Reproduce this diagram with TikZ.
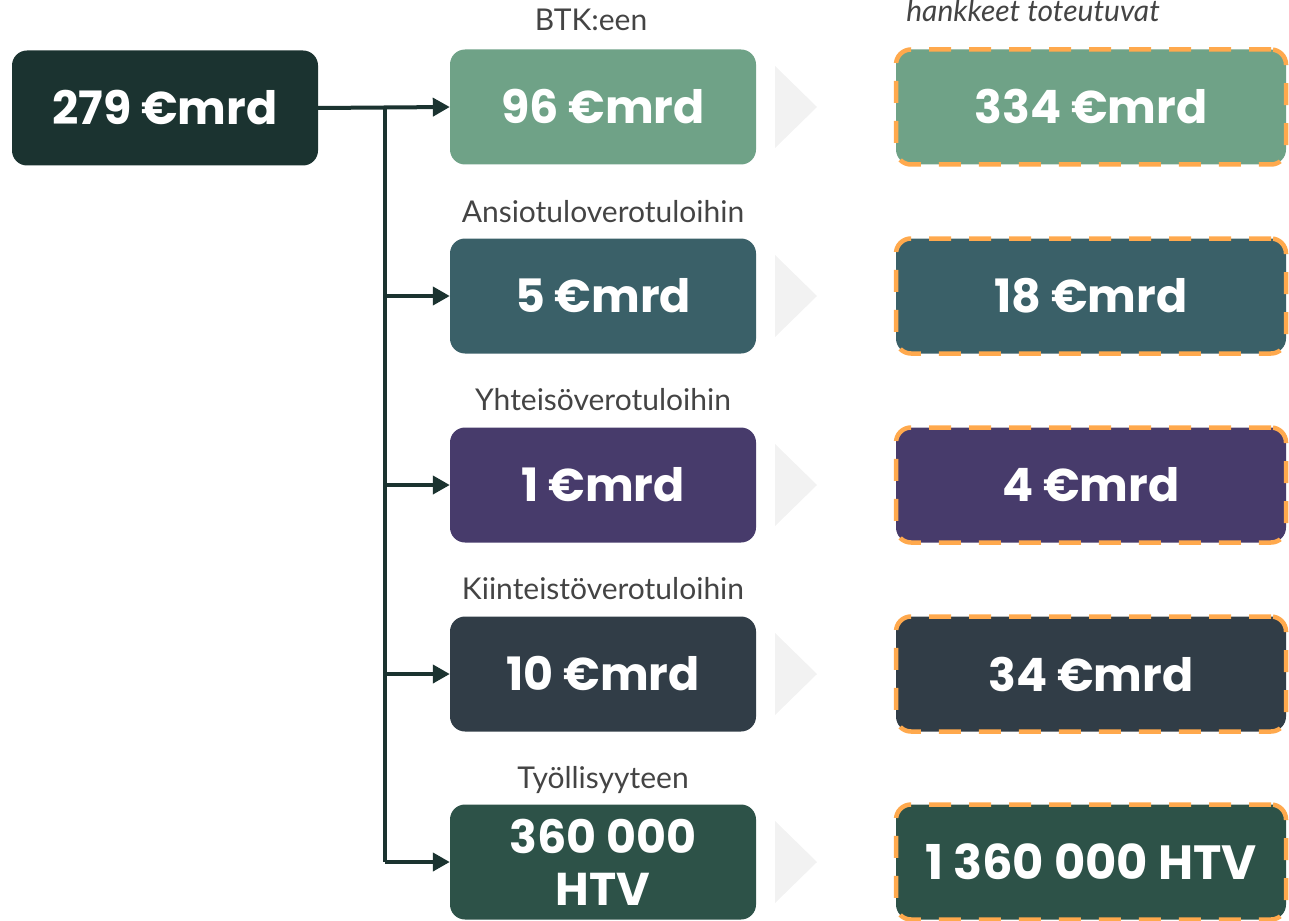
\documentclass[tikz,border=0pt]{standalone}
\usepackage{fontspec}
\usepackage{graphicx}
\setmainfont{Lato}
\newfontfamily\boldf{Poppins}[UprightFont=* Bold]
\usetikzlibrary{arrows.meta}
\definecolor{cdark}{HTML}{1B3330}
\definecolor{cgreen}{HTML}{6FA287}
\definecolor{cteal}{HTML}{3A6068}
\definecolor{cpurple}{HTML}{473B6B}
\definecolor{cslate}{HTML}{313D47}
\definecolor{cforest}{HTML}{2D5248}
\definecolor{corange}{HTML}{FFA94D}
\definecolor{ctri}{HTML}{F2F2F2}
\definecolor{clabel}{HTML}{444444}
\tikzset{
  valbox/.style={rounded corners=15pt, minimum width=306pt, minimum height=115pt, inner sep=0pt,
    text=white, font=\boldf\fontsize{46}{52}\selectfont, align=center},
  resbox/.style={valbox, minimum width=390pt, draw=corange, line width=4.5pt, dash pattern=on 22pt off 18pt},
  catlabel/.style={text=clabel, font=\fontsize{30}{34}\selectfont, inner sep=0pt, anchor=base},
  conn/.style={draw=cdark, line width=4pt},
  arr/.style={conn, -{Triangle[length=17pt,width=18pt]}},
  tri/.style={fill=ctri}
}
\begin{document}
\begin{tikzpicture}[x=1pt,y=-1pt]
\useasboundingbox (0,0) rectangle (1289,920);
\node[valbox, fill=cdark] (src) at (165,108) {279 €mrd};

\node[valbox, fill=cgreen] (m1) at (603,107) {96 €mrd};
\node[valbox, fill=cteal] (m2) at (603,296) {5 €mrd};
\node[valbox, fill=cpurple] (m3) at (603,485) {1 €mrd};
\node[valbox, fill=cslate] (m4) at (603,674) {10 €mrd};
\node[valbox, fill=cforest, font=\boldf\fontsize{46}{54}\selectfont] (m5) at (603,862) {360 000\\[-2pt]HTV};

\node[catlabel] (l1) at (591,31) {BTK:een};
\node[catlabel] (l2) at (603,222) {Ansiotuloverotuloihin};
\node[catlabel] (l3) at (603,410) {Yhteisöverotuloihin};
\node[catlabel] (l4) at (603,599) {Kiinteistöverotuloihin};
\node[catlabel] (l5) at (603,788) {Työllisyyteen};
\node[catlabel, font=\itshape\fontsize{30}{34}\selectfont] (lt) at (1033,22) {hankkeet toteutuvat};

\node[resbox, fill=cgreen] (r1) at (1091,107) {334 €mrd};
\node[resbox, fill=cteal] (r2) at (1091,296) {18 €mrd};
\node[resbox, fill=cpurple] (r3) at (1091,485) {4 €mrd};
\node[resbox, fill=cslate] (r4) at (1091,674) {34 €mrd};
\node[resbox, fill=cforest, font=\boldf\fontsize{48}{52}\selectfont] (r5) at (1091,862) {1 360 000 HTV};

\foreach \y in {107,296,485,674,862}{
  \fill[tri] (775,\y-41) -- (817,\y) -- (775,\y+41) -- cycle;
}

\coordinate (j1) at (385,108);
\coordinate (j2) at (385,296);
\coordinate (j3) at (385,485);
\coordinate (j4) at (385,674);
\coordinate (j5) at (385,862);
\draw[arr] (src.east) -- (m1.west);
\draw[conn] (j1) -- (j5);
\draw[arr] (j2) -- (m2.west);
\draw[arr] (j3) -- (m3.west);
\draw[arr] (j4) -- (m4.west);
\draw[arr] (j5) -- (m5.west);
\end{tikzpicture}
\end{document}
